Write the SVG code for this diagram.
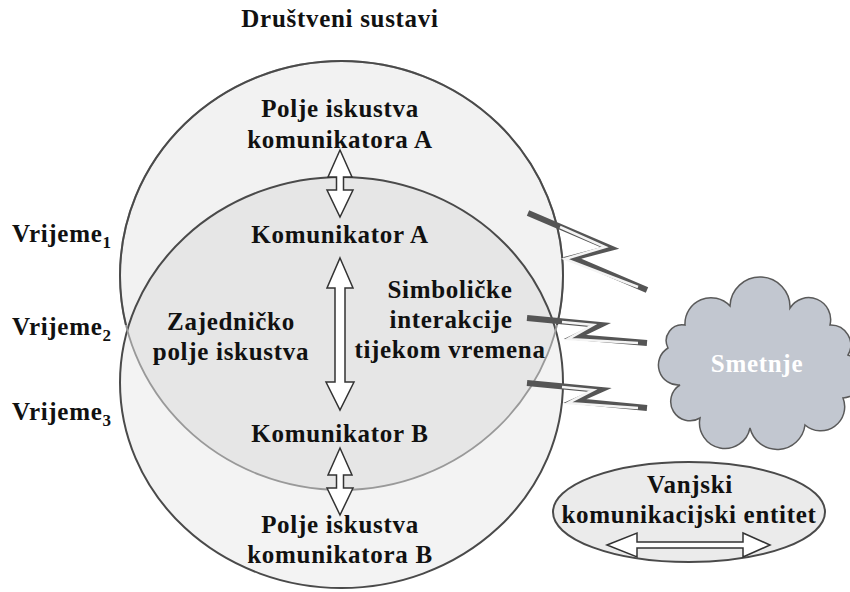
<svg xmlns="http://www.w3.org/2000/svg" width="850" height="592" viewBox="0 0 850 592">
<style>
text{font-family:"Liberation Serif","Times New Roman",serif;font-weight:bold;fill:#111;font-size:25px;letter-spacing:0.7px}
.c{text-anchor:middle}
.arrow{fill:#fff;stroke:#333;stroke-width:1.5;stroke-linejoin:miter}
.bolt{fill:none;stroke:#555;stroke-width:6;stroke-linejoin:miter;stroke-miterlimit:10}
.boltin{fill:none;stroke:#f4f4f4;stroke-width:2.6;stroke-linejoin:miter;stroke-miterlimit:10}
</style>
<defs>
<clipPath id="upper"><rect x="0" y="0" width="850" height="325"/></clipPath>
</defs>
<rect width="850" height="592" fill="#fff"/>
<text class="c" x="340" y="27">Društveni sustavi</text>

<g id="circle-top">
<ellipse cx="341.5" cy="275.5" rx="221.5" ry="214.5" fill="#f2f2f2"/>
</g>
<g id="circle-bottom">
<ellipse cx="341.5" cy="382.5" rx="221.5" ry="205.5" fill="#000" fill-opacity="0.048"/>
<ellipse cx="341.5" cy="382.5" rx="221.5" ry="205.5" fill="none" stroke="#4a4a4a" stroke-width="2"/>
</g>
<g id="circle-top-stroke">
<ellipse cx="341.5" cy="275.5" rx="221.5" ry="214.5" fill="none" stroke="#999" stroke-width="1.8"/>
<ellipse cx="341.5" cy="275.5" rx="221.5" ry="214.5" fill="none" stroke="#4a4a4a" stroke-width="2" clip-path="url(#upper)"/>
</g>

<g id="labels-time">
<text x="12" y="242">Vrijeme<tspan font-size="17" dy="6">1</tspan></text>
<text x="12" y="335">Vrijeme<tspan font-size="17" dy="6">2</tspan></text>
<text x="12" y="420">Vrijeme<tspan font-size="17" dy="6">3</tspan></text>
</g>

<g id="field-a">
<text class="c" x="340" y="117">Polje iskustva</text>
<text class="c" x="340" y="148">komunikatora A</text>
</g>
<g id="komunikator-a"><text class="c" x="340" y="243">Komunikator A</text></g>
<g id="common-field">
<text class="c" x="231" y="330">Zajedničko</text>
<text class="c" x="231" y="360">polje iskustva</text>
</g>
<g id="symbolic">
<text class="c" x="450" y="298">Simboličke</text>
<text class="c" x="451" y="328">interakcije</text>
<text class="c" x="450" y="358">tijekom vremena</text>
</g>
<g id="komunikator-b"><text class="c" x="340" y="442">Komunikator B</text></g>
<g id="field-b">
<text class="c" x="340" y="533">Polje iskustva</text>
<text class="c" x="340" y="563">komunikatora B</text>
</g>

<g id="connectors">
<polygon class="arrow" points="340,150 352,177 343.5,177 343.5,190 353,190 340,217 327,190 336.5,190 336.5,177 328,177"/>
<polygon class="arrow" points="340,258 353,288 345,288 345,382 354,382 340,410 326,382 335,382 335,288 327,288"/>
<polygon class="arrow" points="340,448 352,475 343.5,475 343.5,488 353,488 340,515 327,488 336.5,488 336.5,475 328,475"/>
<path class="bolt" d="M528,213 L610,248 L572,258 L647,290"/>
<path class="boltin" d="M560,227 L605,247 L565,259 L638,287"/>
<path class="bolt" d="M527,318 L600,325 L575,337 L647,343"/>
<path class="boltin" d="M562,322 L593,325 L568,339 L638,343"/>
<path class="bolt" d="M527,383 L600,390 L575,401 L647,408"/>
<path class="boltin" d="M562,387 L593,390 L568,403 L638,408"/>
</g>

<g id="noise">
<path d="M668,348 A16 16 0 0 1 685,325 A26 26 0 0 1 730,306 A30 30 0 0 1 790,308 A22 22 0 0 1 830,325 A20 20 0 0 1 848,355 A22 22 0 0 1 843,398 A24 24 0 0 1 805,425 A28 28 0 0 1 750,428 A24 24 0 0 1 700,418 A16 16 0 0 1 680,385 A20 20 0 0 1 668,348 Z" fill="#c2c7d0" stroke="#5a5a5a" stroke-width="1.5"/>
<text class="c" x="757" y="372" style="fill:#fff">Smetnje</text>
</g>

<g id="external-entity">
<ellipse cx="689" cy="512" rx="136" ry="50" fill="#ebebeb" stroke="#4a4a4a" stroke-width="2"/>
<text class="c" x="690" y="493">Vanjski</text>
<text class="c" x="689" y="523">komunikacijski entitet</text>
<polygon class="arrow" points="607,545 637,533 637,542 743,542 743,533 770,545 743,557 743,548 637,548 637,557"/>
</g>
</svg>
